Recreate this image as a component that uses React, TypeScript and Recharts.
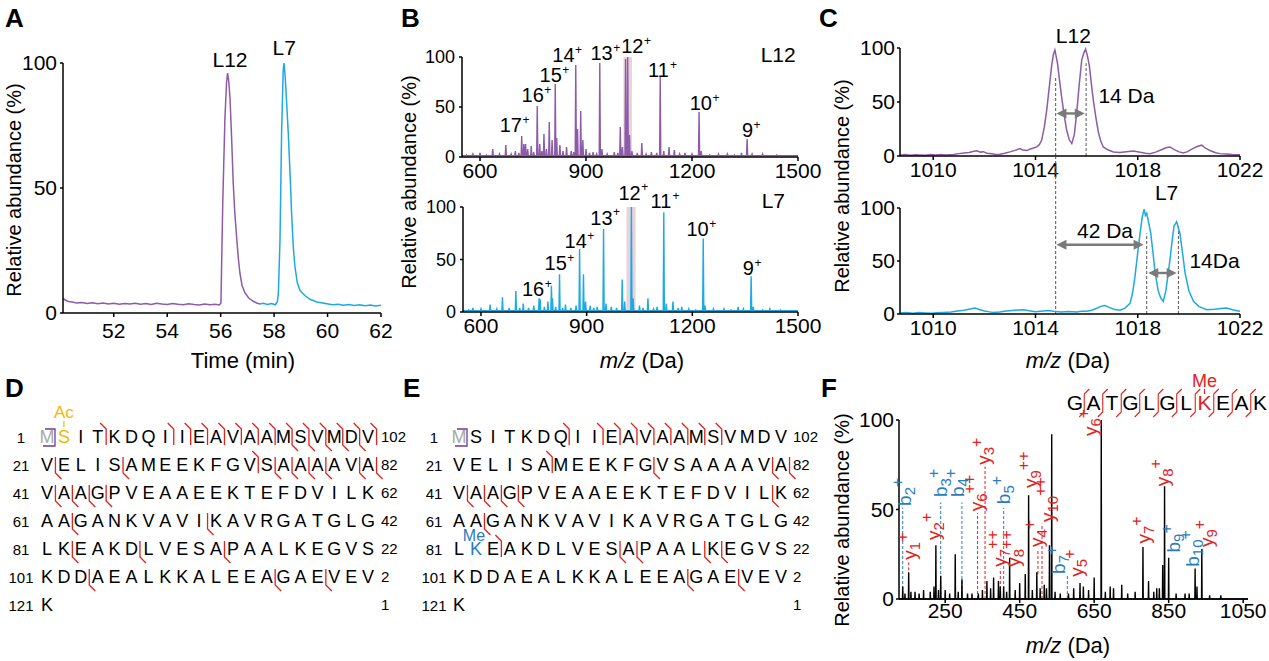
import React from 'react'
import { LineChart, Line, XAxis, YAxis, ReferenceArea, ReferenceLine, ReferenceDot } from 'recharts'

type Pt = [number, number]
type Mark = [number, 'b' | 'y' | 'by']

const FONT = '"Liberation Sans", Arial, sans-serif'
const PURPLE = '#8d5ba7'
const CYAN = '#1ea9e4'
const RED = '#e2221b'
const BLUE = '#2a7cc0'
const ARROW = '#7a7a7a'
const GUIDE = '#555555'

// A: extracted ion chromatograms (min, %)
const chromL12: Pt[] = [
  [50.1, 5.8], [50.2, 5.1], [50.3, 4.6], [50.45, 4.4], [50.6, 4.0], [50.8, 4.2], [51.0, 3.8], [51.2, 4.1],
  [51.4, 3.7], [51.6, 4.0], [51.8, 3.6], [52.0, 3.9], [52.2, 3.5], [52.4, 3.8], [52.6, 3.6], [52.8, 3.9],
  [53.0, 3.5], [53.2, 3.8], [53.4, 3.4], [53.6, 3.9], [53.8, 3.6], [54.0, 3.4], [54.2, 3.8], [54.4, 3.5],
  [54.6, 3.3], [54.8, 3.7], [55.0, 3.4], [55.2, 3.2], [55.4, 3.6], [55.6, 3.3], [55.8, 3.5], [55.95, 3.2],
  [56.01, 4], [56.08, 45], [56.16, 78], [56.22, 92], [56.26, 96], [56.3, 93], [56.35, 86], [56.41, 70],
  [56.47, 52], [56.53, 40], [56.6, 30], [56.66, 22], [56.72, 16], [56.8, 11], [56.91, 8], [57.05, 6],
  [57.22, 4.7], [57.35, 4], [57.47, 3.6],
]
const chromL7: Pt[] = [
  [57.45, 3.6], [57.6, 3.9], [57.75, 3.4], [57.9, 3.8], [58.05, 3.3], [58.12, 4.5], [58.16, 8], [58.22, 29],
  [58.28, 72], [58.34, 97], [58.37, 100], [58.41, 95], [58.47, 84], [58.53, 72], [58.6, 55], [58.66, 38.5],
  [58.72, 26], [58.78, 18.5], [58.87, 12], [58.97, 9], [59.15, 7], [59.34, 5.5], [59.6, 4.4], [59.97, 3.7],
  [60.2, 3.3], [60.4, 3.5], [60.6, 3.1], [60.8, 3.4], [61.0, 3.0], [61.2, 3.3], [61.4, 2.9], [61.6, 3.2],
  [61.8, 2.8], [62.0, 3.1],
]
const chromTicks = [52, 54, 56, 58, 60, 62]

// B: intact protein spectra, peak list (m/z, %)
const msL12: Pt[] = [
  [562, 2], [580, 3], [600, 4], [618, 2], [636, 8], [655, 3], [673, 12], [688, 3], [700, 6], [710, 4],
  [718, 21], [724, 13], [729, 13], [735, 8], [745, 11], [752, 5], [762, 51], [769, 13], [775, 6], [781, 23],
  [788, 8], [796, 35], [804, 17], [813, 73], [817, 19], [826, 12], [835, 6], [845, 10], [858, 6], [865, 5],
  [871, 92], [876, 28], [885, 46], [891, 17], [900, 8], [910, 4], [920, 5], [930, 3], [939, 94], [945, 8],
  [960, 3], [980, 5], [990, 4], [997, 30], [1003, 10], [1012, 98], [1018, 100], [1023, 22], [1030, 6],
  [1045, 4], [1058, 14], [1070, 3], [1085, 5], [1100, 4], [1110, 80], [1120, 6], [1135, 10], [1150, 7],
  [1165, 3], [1180, 4], [1200, 3], [1220, 45], [1226, 6], [1250, 2], [1275, 3], [1300, 3], [1320, 2],
  [1340, 4], [1356, 18], [1370, 3], [1400, 3], [1440, 2],
]
const msL7: Pt[] = [
  [565, 2], [577, 4], [600, 3], [626, 7], [645, 3], [661, 14], [680, 4], [699, 20], [710, 4], [720, 8],
  [735, 4], [750, 6], [765, 13], [768, 12], [780, 5], [790, 10], [800, 25], [803, 13], [812, 5], [823, 36],
  [832, 4], [840, 7], [855, 4], [870, 6], [880, 60], [891, 36], [897, 10], [910, 6], [920, 4], [930, 5],
  [948, 79], [955, 8], [970, 5], [985, 4], [1001, 31], [1008, 10], [1027, 100], [1032, 13], [1050, 6],
  [1060, 4], [1074, 13], [1090, 3], [1100, 5], [1119, 95], [1126, 8], [1145, 10], [1160, 4], [1170, 5],
  [1190, 3], [1210, 2], [1231, 70], [1236, 6], [1260, 3], [1290, 3], [1310, 2], [1330, 5], [1345, 3],
  [1367, 34], [1373, 5], [1400, 2], [1420, 3], [1450, 2],
]
const chargesL12: [string, number, number][] = [
  ['17', 687, 25], ['16', 749, 55], ['15', 800, 75], ['14', 836, 95], ['13', 944, 97],
  ['12', 1031, 104], ['11', 1105, 80], ['10', 1225, 47], ['9', 1357, 20],
]
const chargesL7: [string, number, number][] = [
  ['16', 748, 15], ['15', 812, 40], ['14', 869, 61], ['13', 942, 83], ['12', 1022, 107],
  ['11', 1111, 99], ['10', 1215, 72], ['9', 1359, 35],
]
const msTicks = [600, 900, 1200, 1500]

// C: 12+ charge state, zoomed (m/z, %)
const zoomL12: Pt[] = [
  [1008.7, 0.8], [1008.9, 1.3], [1009.1, 0.7], [1009.3, 1.2], [1009.5, 1.0], [1009.7, 0.6], [1009.9, 1.3],
  [1010.1, 0.9], [1010.3, 1.4], [1010.5, 1.0], [1010.8, 1.5], [1011.0, 2.2], [1011.2, 2.8], [1011.4, 3.2],
  [1011.55, 4.2], [1011.7, 4.8], [1011.85, 3.6], [1011.96, 4.0], [1012.1, 2.6], [1012.3, 2.0], [1012.45, 1.4],
  [1012.61, 1.6], [1012.8, 2.6], [1013.0, 3.8], [1013.2, 5.2], [1013.39, 6.8], [1013.5, 5.5], [1013.66, 5.0],
  [1013.8, 6.5], [1013.95, 7.6], [1014.05, 8.4], [1014.15, 10.5], [1014.24, 14.6], [1014.34, 26],
  [1014.44, 42.5], [1014.54, 64], [1014.63, 83], [1014.7, 94], [1014.76, 98], [1014.81, 92], [1014.86, 86],
  [1014.94, 70], [1015.02, 55], [1015.12, 38], [1015.22, 24], [1015.32, 15], [1015.42, 11.5], [1015.52, 20],
  [1015.61, 39], [1015.71, 66], [1015.81, 89], [1015.9, 96], [1015.96, 99], [1016.03, 93], [1016.11, 83],
  [1016.18, 68], [1016.26, 52], [1016.36, 36], [1016.46, 22], [1016.55, 14], [1016.65, 8.4], [1016.85, 5.5],
  [1017.05, 3.7], [1017.3, 3.2], [1017.55, 4.0], [1017.83, 4.7], [1018.1, 3.4], [1018.3, 2.6], [1018.48, 2.2],
  [1018.7, 3.6], [1018.95, 6.0], [1019.1, 7.6], [1019.26, 8.4], [1019.45, 5.6], [1019.62, 3.8], [1019.78, 2.8],
  [1019.95, 4.0], [1020.15, 6.8], [1020.35, 9.0], [1020.5, 10], [1020.65, 7.2], [1020.85, 4.8], [1021.05, 3.0],
  [1021.22, 2.2], [1021.45, 1.8], [1021.7, 1.4], [1022.0, 1.2],
]
const zoomL7: Pt[] = [
  [1008.7, 1.0], [1008.95, 1.4], [1009.2, 0.8], [1009.45, 1.3], [1009.7, 1.0], [1009.95, 0.7], [1010.13, 1.1],
  [1010.4, 1.5], [1010.7, 2.0], [1010.95, 2.8], [1011.2, 3.6], [1011.45, 4.8], [1011.63, 5.7], [1011.8, 4.2],
  [1012.0, 2.8], [1012.2, 2.0], [1012.35, 1.5], [1012.6, 2.0], [1012.85, 2.8], [1013.1, 3.4], [1013.35, 3.8],
  [1013.53, 4.0], [1013.75, 3.0], [1014.0, 2.2], [1014.3, 2.8], [1014.5, 3.2], [1014.7, 2.5], [1015.0, 1.9],
  [1015.3, 2.4], [1015.6, 2.0], [1015.8, 2.7], [1016.0, 2.5], [1016.2, 3.6], [1016.4, 5.4], [1016.55, 7.2],
  [1016.72, 7.9], [1016.9, 6.0], [1017.1, 4.2], [1017.31, 3.5], [1017.5, 5.5], [1017.7, 10], [1017.8, 20],
  [1017.89, 35], [1017.99, 56], [1018.09, 76], [1018.18, 92], [1018.25, 99], [1018.3, 93], [1018.35, 95],
  [1018.43, 86], [1018.51, 76], [1018.6, 57], [1018.68, 39], [1018.8, 22], [1018.9, 15], [1019.0, 12],
  [1019.1, 22], [1019.18, 36], [1019.26, 51], [1019.34, 68], [1019.42, 83], [1019.52, 87], [1019.58, 82],
  [1019.65, 76], [1019.75, 58], [1019.85, 39], [1020.0, 22], [1020.18, 12], [1020.4, 7], [1020.7, 4],
  [1021.0, 4.5], [1021.25, 5.2], [1021.48, 5.7], [1021.7, 4.0], [1022.0, 2.5],
]
const zoomTicks = [1010, 1014, 1018, 1022]
const zoomGuidesL12: Pt[] = [[1014.79, 74], [1015.98, 86]]
const zoomGuidesL7: Pt[] = [[1018.35, 76], [1019.59, 83]]

// D/E: sequence coverage
const seqRows = [
  'MSITKDQIIEAVAAMSVMDV', 'VELISAMEEKFGVSAAAAVA', 'VAAGPVEAAEEKTEFDVILK', 'AAGANKVAVIKAVRGATGLG',
  'LKEAKDLVESAPAALKEGVS', 'KDDAEALKKALEEAGAEVEV', 'K',
]
const seqStart = [1, 21, 41, 61, 81, 101, 121]
const seqEnd = [102, 82, 62, 42, 22, 2, 1]
const marksD: Mark[][] = [
  [[4, 'b'], [8, 'b'], [9, 'b'], [10, 'b'], [11, 'b'], [12, 'b'], [13, 'b'], [14, 'b'], [15, 'by'], [16, 'by'],
    [17, 'by'], [18, 'by'], [19, 'by'], [20, 'b']],
  [[1, 'y'], [5, 'y'], [13, 'b'], [14, 'y'], [15, 'y'], [16, 'y'], [17, 'y'], [19, 'y'], [20, 'y']],
  [[1, 'y'], [2, 'y'], [3, 'y'], [4, 'y']],
  [[2, 'y'], [10, 'y']],
  [[2, 'y'], [6, 'y'], [11, 'y']],
  [[3, 'y'], [14, 'y'], [17, 'y']],
  [],
]
const marksE: Mark[][] = [
  [[7, 'b'], [9, 'b'], [10, 'b'], [11, 'b'], [12, 'b'], [13, 'b'], [14, 'b'], [15, 'b'], [16, 'b']],
  [[6, 'b'], [12, 'y'], [19, 'y'], [20, 'y']],
  [[1, 'y'], [2, 'y'], [3, 'y'], [4, 'y'], [19, 'y']],
  [[2, 'y']],
  [[3, 'b'], [10, 'y'], [11, 'y'], [15, 'y'], [16, 'y']],
  [[14, 'y'], [17, 'y']],
  [],
]

// F: MS/MS of GATGLGLK(me)EAK (m/z, %)
const peptide = 'GATGLGLKEAK'
const msmsPeaks: Pt[] = [
  [136, 7], [142, 3], [152, 15], [158, 4], [169, 4], [180, 3], [192, 5], [210, 4], [220, 7], [225, 30],
  [232, 5], [238, 13], [250, 5], [262, 3], [277, 25], [285, 4], [295, 11], [310, 3], [322, 3], [339, 3],
  [350, 5], [362, 10], [372, 6], [380, 12], [393, 10], [398, 7], [407, 7], [415, 4], [423, 23], [438, 5],
  [450, 9], [465, 14], [474, 58], [484, 5], [496, 15], [505, 6], [516, 8], [522, 6], [530, 30], [536, 92],
  [545, 4], [559, 3], [581, 3], [595, 6], [612, 9], [621, 7], [635, 5], [650, 12], [669, 100], [680, 4],
  [693, 7], [702, 6], [724, 8], [740, 3], [760, 4], [781, 29], [796, 10], [810, 4], [818, 6], [825, 6],
  [834, 19], [839, 63], [850, 23], [870, 3], [894, 3], [905, 3], [921, 17], [926, 7], [939, 28], [960, 2],
  [990, 2],
]
// ion type, index, charge, m/z of label, label start (%)
const ionLabels: [string, string, string, number, number][] = [
  ['b', '2', '+', 139, 52], ['y', '1', '+', 152, 22], ['y', '2', '+', 217, 33], ['b', '3', '+', 236, 57],
  ['b', '4', '+', 282, 57], ['y', '6', '++', 334, 49], ['y', '3', '+', 353, 75], ['y', '7', '++', 394, 18],
  ['b', '5', '+', 405, 53], ['y', '8', '++', 433, 18], ['y', '9', '++', 478, 62], ['y', '4', '+', 495, 29],
  ['y', '10', '++', 523, 43], ['b', '7', '+', 554, 14], ['y', '5', '+', 603, 12.5], ['y', '6', '+', 639, 91],
  ['y', '7', '+', 782, 31], ['y', '8', '+', 832, 63], ['b', '9', '+', 863, 26], ['b', '10', '+', 912, 18],
  ['y', '9', '+', 952, 29],
]
// ion type, m/z, from (%), to (%)
const ionGuides: [string, number, number, number][] = [
  ['b', 136, 0, 51], ['y', 152, 16, 21], ['b', 238, 0, 54], ['b', 295, 0, 54], ['y', 337, 0, 48],
  ['y', 357, 0, 74], ['y', 398, 0, 17], ['b', 407, 0, 51], ['y', 499, 14, 28], ['y', 510, 0, 42],
  ['b', 578, 0, 13],
]
const msmsTicks = [250, 450, 650, 850, 1050]

const toXY = (pts: Pt[]) => pts.map(([x, y]) => ({ x, y }))
const sticks = (peaks: Pt[], base: number, half: number, lo: number, hi: number) => [
  { x: lo, y: base },
  ...peaks.flatMap(([m, h]) => [{ x: m - half, y: base }, { x: m, y: h }, { x: m + half, y: base }]),
  { x: hi, y: base },
]

type Box = { x0: number; y0: number; x1: number; y1: number }
const PAD = { l: 80, t: 80, r: 40, b: 50 }
const YW = 70
const XH = 40

function Plot(props: {
  box: Box
  xDomain: [number, number]
  xTicks: number[]
  xFont?: number
  yFont?: number
  xGap?: number
  yGap?: number
  children: React.ReactNode
}) {
  const { box, xDomain, xTicks, xFont = 21, yFont = 21, xGap = 6, yGap = 2, children } = props
  const width = box.x1 - box.x0 + PAD.l + PAD.r
  const height = box.y1 - box.y0 + PAD.t + PAD.b
  const axis = { stroke: '#000', strokeWidth: 1.5 }
  return (
    <div style={{ position: 'absolute', left: box.x0 - PAD.l, top: box.y0 - PAD.t }}>
      <LineChart width={width} height={height} margin={{ top: PAD.t, right: PAD.r, bottom: PAD.b - XH, left: PAD.l - YW }}>
        <XAxis type="number" dataKey="x" domain={xDomain} ticks={xTicks} interval={0} height={XH}
          axisLine={axis} tickLine={axis} tickSize={4} tickMargin={Math.max(0, xGap - 4)}
          tick={{ fill: '#000', fontSize: xFont, fontFamily: FONT }} />
        <YAxis type="number" domain={[0, 100]} ticks={[0, 50, 100]} interval={0} width={YW}
          axisLine={axis} tickLine={axis} tickSize={3} tickMargin={yGap}
          tick={{ fill: '#000', fontSize: yFont, fontFamily: FONT }} />
        {children}
      </LineChart>
    </div>
  )
}

function tag(cx: number, cy: number, main: string, sup = '', fs = 21, color = '#000', anchor: 'middle' | 'start' = 'middle') {
  const w = main.length * 0.556 * fs
  const supX = anchor === 'middle' ? cx + w / 2 + 0.5 : cx + w + 0.5
  return (
    <g>
      <text x={cx} y={cy} textAnchor={anchor} fontSize={fs} fill={color} fontFamily={FONT}>{main}</text>
      {sup && <text x={supX} y={cy - fs * 0.42} fontSize={fs * 0.6} fill={color} fontFamily={FONT}>{sup}</text>}
    </g>
  )
}

const textDot = (key: string, x: number, y: number, draw: (cx: number, cy: number) => React.ReactElement) => (
  <ReferenceDot key={key} x={x} y={y} r={0} ifOverflow="visible" shape={(p: any) => draw(p.cx, p.cy)} />
)

const arrowShape = (p: any) => {
  const { x1, y1, x2, y2 } = p
  const a = Math.min(x1, x2)
  const b = Math.max(x1, x2)
  return (
    <g>
      <line x1={a + 6} y1={y1} x2={b - 6} y2={y2} stroke={ARROW} strokeWidth={2.4} />
      <polygon points={`${a},${y1} ${a + 10},${y1 - 5} ${a + 10},${y1 + 5}`} fill={ARROW} />
      <polygon points={`${b},${y2} ${b - 10},${y2 - 5} ${b - 10},${y2 + 5}`} fill={ARROW} />
    </g>
  )
}

const guide = (key: string, x: number, top: number, color = GUIDE, from = 0) => (
  <ReferenceLine key={key} segment={[{ x, y: from }, { x, y: top }]} stroke={color} strokeWidth={1}
    strokeDasharray="3 2" ifOverflow="visible" />
)

const arrow = (key: string, a: number, b: number, y: number) => (
  <ReferenceLine key={key} segment={[{ x: a, y }, { x: b, y }]} ifOverflow="visible" shape={arrowShape} />
)

function ionText(cx: number, cy: number, kind: string, n: string, z: string) {
  const color = kind === 'b' ? BLUE : RED
  return (
    <text transform={`rotate(-90 ${cx} ${cy})`} x={cx} y={cy} dy="0.36em" fontSize={19} fill={color} fontFamily={FONT}>
      {kind}
      <tspan fontSize={15} dy={4}>{n}</tspan>
      <tspan fontSize={16} dy={-12}>{z}</tspan>
    </text>
  )
}

function fragPath(gx: number, base: number, type: string, h: number, hook: number, mirror = false) {
  const top = base - h
  const s = mirror ? -1 : 1
  let d = `M${gx},${top} L${gx},${base + 2}`
  if (type.includes('b')) d = `M${gx - s * hook},${top - hook} L${gx},${top} L${gx},${base + 2}`
  if (type.includes('y')) d += ` L${gx + s * hook},${base + 2 + hook}`
  return d
}

const ROW_Y = [443, 471, 499, 527, 555, 583, 611]

function Sequence(props: {
  x0: number
  step: number
  numX: number
  endX: number
  marks: Mark[][]
  color: (r: number, i: number) => string
}) {
  const { x0, step, numX, endX, marks, color } = props
  return (
    <g fontFamily={FONT}>
      {seqRows.map((row, r) => (
        <g key={r}>
          <text x={numX} y={ROW_Y[r]} fontSize={15} textAnchor="middle">{seqStart[r]}</text>
          <text x={endX} y={ROW_Y[r] - 1} fontSize={15}>{seqEnd[r]}</text>
          {row.split('').map((c, i) => (
            <text key={i} x={x0 + i * step} y={ROW_Y[r]} fontSize={18} textAnchor="middle" fill={color(r, i)}>{c}</text>
          ))}
          {marks[r].map(([g, t]) => (
            <path key={`m${g}`} d={fragPath(x0 + (g - 0.5) * step, ROW_Y[r], t, 14, 6)} stroke={RED}
              strokeWidth={1.3} fill="none" />
          ))}
        </g>
      ))}
    </g>
  )
}

const mzTitle = (x: number, y: number, fs = 22) => (
  <text x={x} y={y} fontSize={fs} textAnchor="middle" fontFamily={FONT}>
    <tspan fontStyle="italic">m/z</tspan>{' (Da)'}
  </text>
)
const yTitle = (x: number, y: number, fs = 20) => (
  <text transform={`rotate(-90 ${x} ${y})`} x={x} y={y} fontSize={fs} textAnchor="middle" fontFamily={FONT}>
    Relative abundance (%)
  </text>
)

export default function App() {
  const dX0 = 47
  const dStep = 16.9
  const eX0 = 459
  const eStep = 16.95
  const fX0 = 1075
  const fStep = 18.5
  return (
    <div style={{ position: 'absolute', left: 0, top: 0, width: 1269, height: 661, background: '#fff', overflow: 'hidden', fontFamily: FONT }}>
      <style>{'.recharts-surface{overflow:visible}'}</style>

      {/* A */}
      <Plot box={{ x0: 63, y0: 63, x1: 381, y1: 313 }} xDomain={[50.1, 62]} xTicks={chromTicks} xGap={10} yGap={3}>
        <Line data={toXY(chromL12)} dataKey="y" stroke={PURPLE} strokeWidth={1.5} dot={false} isAnimationActive={false} />
        <Line data={toXY(chromL7)} dataKey="y" stroke={CYAN} strokeWidth={1.5} dot={false} isAnimationActive={false} />
        {textDot('a1', 56.35, 98.5, (x, y) => tag(x, y, 'L12'))}
        {textDot('a2', 58.38, 103.2, (x, y) => tag(x, y, 'L7'))}
      </Plot>

      {/* B */}
      <Plot box={{ x0: 462, y0: 57, x1: 798, y1: 157 }} xDomain={[549, 1500]} xTicks={msTicks} yFont={18} yGap={4}>
        <ReferenceArea x1={1006} x2={1030} y1={0} y2={100} fill="#e8d3db" fillOpacity={1} stroke="none" />
        <Line data={sticks(msL12, 1.2, 1.6, 549, 1500)} dataKey="y" stroke={PURPLE} strokeWidth={1.4} dot={false} isAnimationActive={false} />
        {chargesL12.map(([z, m, y]) => textDot(`c12${z}`, m, y, (cx, cy) => tag(cx, cy, z, '+', 20)))}
        {textDot('bl12', 1444, 95, (x, y) => tag(x, y, 'L12'))}
      </Plot>
      <Plot box={{ x0: 463, y0: 207, x1: 798, y1: 312 }} xDomain={[549, 1500]} xTicks={msTicks} yFont={18} yGap={4}>
        <ReferenceArea x1={1013} x2={1039} y1={0} y2={100} fill="#e8d3db" fillOpacity={1} stroke="none" />
        <Line data={sticks(msL7, 1.2, 1.6, 549, 1500)} dataKey="y" stroke={CYAN} strokeWidth={1.4} dot={false} isAnimationActive={false} />
        {chargesL7.map(([z, m, y]) => textDot(`c7${z}`, m, y, (cx, cy) => tag(cx, cy, z, '+', 20)))}
        {textDot('bl7', 1430, 99, (x, y) => tag(x, y, 'L7'))}
      </Plot>

      {/* C */}
      <Plot box={{ x0: 900, y0: 48, x1: 1240, y1: 156 }} xDomain={[1008.7, 1022]} xTicks={zoomTicks} yGap={2}>
        {zoomGuidesL12.map(([m, h], i) => guide(`g12${i}`, m, h))}
        <Line data={toXY(zoomL12)} dataKey="y" stroke={PURPLE} strokeWidth={1.5} dot={false} isAnimationActive={false} />
        {arrow('ar1', 1014.82, 1015.93, 39.4)}
        {textDot('cl12', 1015.48, 104.7, (x, y) => tag(x, y, 'L12'))}
        {textDot('c14', 1016.46, 48.8, (x, y) => tag(x, y, '14 Da', '', 21, '#000', 'start'))}
      </Plot>
      <Plot box={{ x0: 900, y0: 208, x1: 1240, y1: 314 }} xDomain={[1008.7, 1022]} xTicks={zoomTicks} yGap={2}>
        {guide('g7x', 1014.79, 149)}
        {zoomGuidesL7.map(([m, h], i) => guide(`g7${i}`, m, h))}
        <Line data={toXY(zoomL7)} dataKey="y" stroke={CYAN} strokeWidth={1.5} dot={false} isAnimationActive={false} />
        {arrow('ar2', 1014.82, 1018.23, 65.4)}
        {arrow('ar3', 1018.41, 1019.52, 38.7)}
        {textDot('cl7', 1019.13, 107.9, (x, y) => tag(x, y, 'L7'))}
        {textDot('c42', 1016.72, 71.7, (x, y) => tag(x, y, '42 Da'))}
        {textDot('c14b', 1020.02, 43.4, (x, y) => tag(x, y, '14Da', '', 21, '#000', 'start'))}
      </Plot>

      {/* F */}
      <Plot box={{ x0: 899, y0: 420, x1: 1248, y1: 599 }} xDomain={[126, 1063]} xTicks={msmsTicks} xGap={2} yGap={2}>
        {ionGuides.map(([k, m, a, b], i) => guide(`ig${i}`, m, b, k === 'b' ? BLUE : RED, a))}
        <Line data={sticks(msmsPeaks, 0, 0.7, 126, 1063)} dataKey="y" stroke="#000" strokeWidth={1.4} dot={false} isAnimationActive={false} />
        {ionLabels.map(([k, n, z, m, y], i) => textDot(`il${i}`, m, y, (cx, cy) => ionText(cx, cy, k, n, z)))}
      </Plot>

      <svg width={1269} height={661} style={{ position: 'absolute', left: 0, top: 0, pointerEvents: 'none' }} fontFamily={FONT}>
        {/* panel letters */}
        {[['A', 5, 27], ['B', 401, 27], ['C', 819, 27], ['D', 5, 397], ['E', 403, 397], ['F', 821, 397]].map(([l, x, y]) => (
          <text key={l as string} x={x as number} y={y as number} fontSize={26} fontWeight="bold">{l}</text>
        ))}

        {/* axis titles */}
        {yTitle(21, 190)}
        <text x={243} y={368} fontSize={22} textAnchor="middle">Time (min)</text>
        {yTitle(416, 182)}
        {mzTitle(642, 368)}
        {yTitle(849, 186)}
        {mzTitle(1068, 368)}
        {yTitle(849, 520)}
        {mzTitle(1068, 653)}

        {/* D */}
        <Sequence x0={dX0} step={dStep} numX={21} endX={381} marks={marksD}
          color={(r, i) => (r === 0 && i === 0 ? '#aaaaaa' : r === 0 && i === 1 ? '#f2b705' : '#000')} />
        <text x={dX0 + dStep} y={418} fontSize={17} textAnchor="middle" fill="#f2b705">Ac</text>
        <line x1={dX0 + dStep} y1={421} x2={dX0 + dStep} y2={427} stroke="#f2b705" strokeWidth={1.2} />
        <path d={`M${dX0 - 2},${ROW_Y[0] - 14} L${dX0 + 8},${ROW_Y[0] - 14} L${dX0 + 8},${ROW_Y[0] + 3} L${dX0 - 4},${ROW_Y[0] + 3}`}
          stroke="#6a3d9a" strokeWidth={1.3} fill="none" />

        {/* E */}
        <Sequence x0={eX0} step={eStep} numX={434} endX={793} marks={marksE}
          color={(r, i) => (r === 0 && i === 0 ? '#aaaaaa' : r === 4 && i === 1 ? BLUE : '#000')} />
        <text x={eX0 + eStep - 2} y={541} fontSize={16} textAnchor="middle" fill={BLUE}>Me</text>
        <path d={`M${eX0 - 2},${ROW_Y[0] - 14} L${eX0 + 8},${ROW_Y[0] - 14} L${eX0 + 8},${ROW_Y[0] + 3} L${eX0 - 4},${ROW_Y[0] + 3}`}
          stroke="#6a3d9a" strokeWidth={1.3} fill="none" />

        {/* F peptide */}
        {peptide.split('').map((c, i) => (
          <text key={`p${i}`} x={fX0 + i * fStep} y={410} fontSize={21} textAnchor="middle" fill={i === 7 ? RED : '#000'}>{c}</text>
        ))}
        {peptide.split('').slice(1).map((_, i) => (
          <path key={`pf${i}`} d={fragPath(fX0 + (i + 0.5) * fStep, 410, 'by', 16, 5, true)} stroke={RED} strokeWidth={1.1} fill="none" />
        ))}
        <text x={fX0 + 7 * fStep} y={387} fontSize={18} textAnchor="middle" fill={RED}>Me</text>
        <line x1={fX0 + 7 * fStep} y1={389} x2={fX0 + 7 * fStep} y2={394} stroke={RED} strokeWidth={1.2} />
      </svg>
    </div>
  )
}
